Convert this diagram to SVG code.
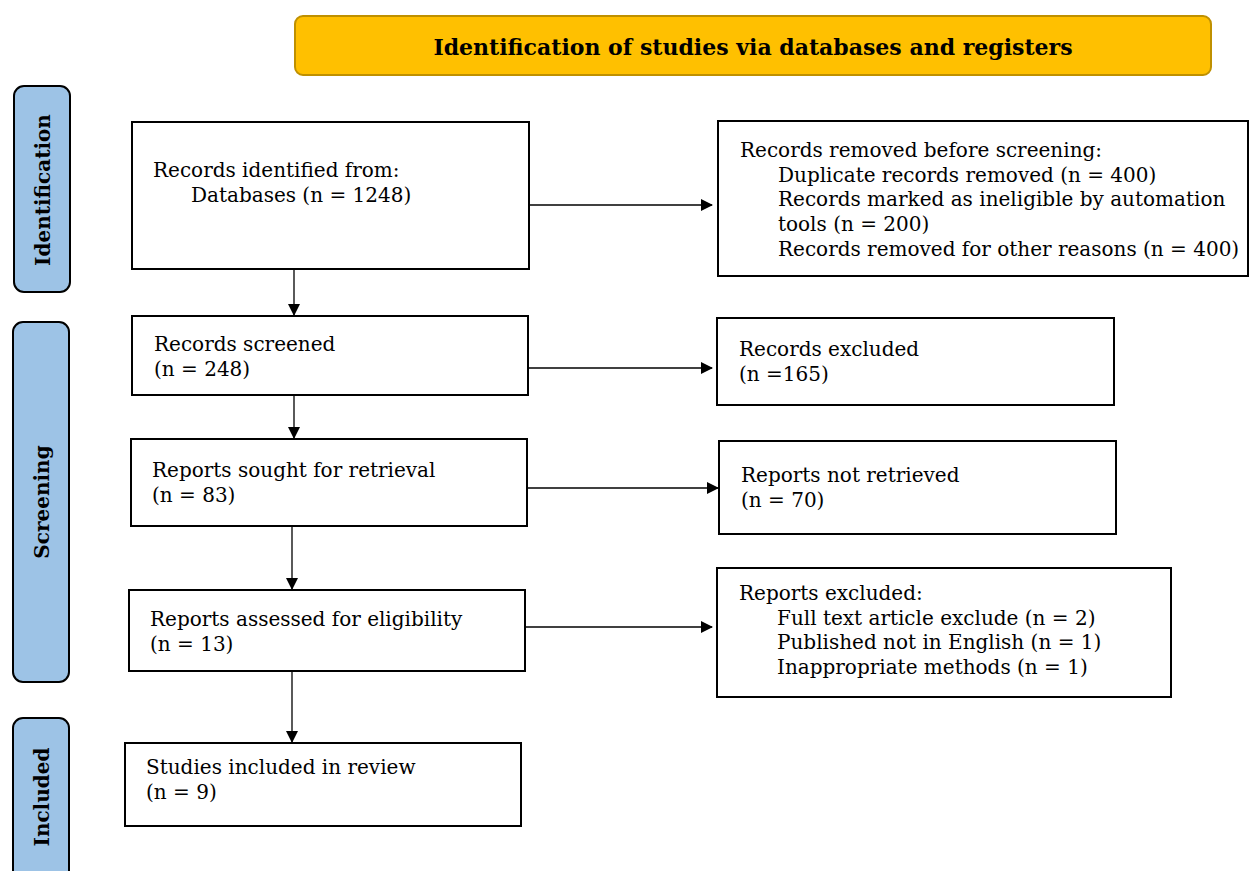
<svg xmlns="http://www.w3.org/2000/svg" width="1250" height="871" viewBox="0 0 1250 871">
<style>
.box{fill:#fff;stroke:#000;stroke-width:2}
.side{fill:#9DC3E6;stroke:#000;stroke-width:2}
.t{font-family:"DejaVu Serif","Liberation Serif",serif;font-size:20px;fill:#000}
.sl{font-family:"DejaVu Serif","Liberation Serif",serif;font-size:20px;font-weight:bold;fill:#000}
.title{font-family:"DejaVu Serif","Liberation Serif",serif;font-size:22px;font-weight:bold;fill:#000}
.c{stroke:#000;stroke-width:1.3;fill:none}
</style>
<defs>
<marker id="ah" markerWidth="12" markerHeight="12" refX="11" refY="6" orient="auto" markerUnits="userSpaceOnUse">
<path d="M0,0 L12,6 L0,12 Z" fill="#000"/>
</marker>
</defs>
<rect width="1250" height="871" fill="#fff"/>
<g id="title">
<rect x="295" y="16" width="916" height="59" rx="8" fill="#FFC000" stroke="#BF9000" stroke-width="2"/>
<text class="title" x="753" y="55" text-anchor="middle">Identification of studies via databases and registers</text>
</g>
<g id="side-identification">
<rect class="side" x="14" y="86" width="56" height="206" rx="10"/>
<text class="sl" transform="translate(50,190) rotate(-90)" text-anchor="middle">Identification</text>
</g>
<g id="side-screening">
<rect class="side" x="13" y="322" width="56" height="360" rx="10"/>
<text class="sl" transform="translate(49,502) rotate(-90)" text-anchor="middle">Screening</text>
</g>
<g id="side-included">
<rect class="side" x="13" y="718" width="56" height="170" rx="10"/>
<text class="sl" transform="translate(49,797) rotate(-90)" text-anchor="middle">Included</text>
</g>
<g id="records-identified">
<rect class="box" x="132" y="122" width="397" height="147"/>
<text class="t" x="153" y="177">Records identified from:</text>
<text class="t" x="191" y="202">Databases (n = 1248)</text>
</g>
<g id="records-removed">
<rect class="box" x="718" y="121" width="530" height="155"/>
<text class="t" x="740" y="157">Records removed before screening:</text>
<text class="t" x="778" y="182">Duplicate records removed (n = 400)</text>
<text class="t" x="778" y="206">Records marked as ineligible by automation</text>
<text class="t" x="778" y="231">tools (n = 200)</text>
<text class="t" x="778" y="256">Records removed for other reasons (n = 400)</text>
</g>
<g id="records-screened">
<rect class="box" x="132" y="316" width="396" height="79"/>
<text class="t" x="154" y="351">Records screened</text>
<text class="t" x="154" y="376">(n = 248)</text>
</g>
<g id="records-excluded">
<rect class="box" x="717" y="318" width="397" height="87"/>
<text class="t" x="739" y="356">Records excluded</text>
<text class="t" x="739" y="381">(n =165)</text>
</g>
<g id="reports-sought">
<rect class="box" x="131" y="439" width="396" height="87"/>
<text class="t" x="152" y="477">Reports sought for retrieval</text>
<text class="t" x="152" y="502">(n = 83)</text>
</g>
<g id="reports-not-retrieved">
<rect class="box" x="719" y="441" width="397" height="93"/>
<text class="t" x="741" y="482">Reports not retrieved</text>
<text class="t" x="741" y="507">(n = 70)</text>
</g>
<g id="reports-assessed">
<rect class="box" x="129" y="590" width="396" height="81"/>
<text class="t" x="150" y="626">Reports assessed for eligibility</text>
<text class="t" x="150" y="651">(n = 13)</text>
</g>
<g id="reports-excluded">
<rect class="box" x="717" y="568" width="454" height="129"/>
<text class="t" x="739" y="600">Reports excluded:</text>
<text class="t" x="777" y="625">Full text article exclude (n = 2)</text>
<text class="t" x="777" y="649">Published not in English (n = 1)</text>
<text class="t" x="777" y="674">Inappropriate methods (n = 1)</text>
</g>
<g id="studies-included">
<rect class="box" x="125" y="743" width="396" height="83"/>
<text class="t" x="146" y="774">Studies included in review</text>
<text class="t" x="146" y="799">(n = 9)</text>
</g>
<g id="connectors">
<line class="c" x1="530" y1="205" x2="712" y2="205" marker-end="url(#ah)"/>
<line class="c" x1="294" y1="270" x2="294" y2="315" marker-end="url(#ah)"/>
<line class="c" x1="529" y1="368" x2="712" y2="368" marker-end="url(#ah)"/>
<line class="c" x1="294" y1="396" x2="294" y2="438" marker-end="url(#ah)"/>
<line class="c" x1="528" y1="488" x2="718" y2="488" marker-end="url(#ah)"/>
<line class="c" x1="292" y1="527" x2="292" y2="589" marker-end="url(#ah)"/>
<line class="c" x1="526" y1="627" x2="712" y2="627" marker-end="url(#ah)"/>
<line class="c" x1="292" y1="672" x2="292" y2="742" marker-end="url(#ah)"/>
</g>
</svg>
